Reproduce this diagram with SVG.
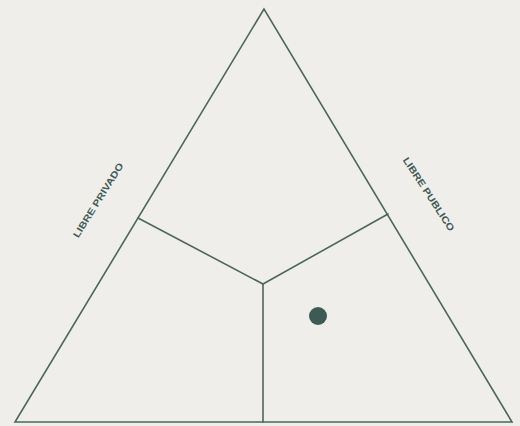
<svg xmlns="http://www.w3.org/2000/svg" width="520" height="426" viewBox="0 0 520 426">
<style>
.ln{stroke:#4d6660;stroke-width:1.6;fill:none;stroke-linejoin:miter;stroke-linecap:round}
.lb{font-family:"Liberation Sans",Arial,sans-serif;font-weight:bold;font-size:9.5px;fill:#3f5a55;text-anchor:middle}
</style>
<rect width="520" height="426" fill="#efeeea"/>
<g id="triangle"><polygon class="ln" points="264,9 15,422 512,422"/></g>
<g id="connectors">
<line class="ln" x1="138" y1="218" x2="263" y2="284"/>
<line class="ln" x1="388" y1="214" x2="263" y2="284"/>
<line class="ln" x1="263" y1="284" x2="263" y2="422"/>
</g>
<g id="label-privado"><text class="lb" transform="translate(101,202) rotate(-58)" textLength="86" lengthAdjust="spacingAndGlyphs">LIBRE PRIVADO</text></g>
<g id="label-publico"><text class="lb" transform="translate(426,196) rotate(57)" textLength="86" lengthAdjust="spacingAndGlyphs">LIBRE PUBLICO</text></g>
<g id="point"><circle cx="318" cy="316" r="9" fill="#3d5a54"/></g>
</svg>
